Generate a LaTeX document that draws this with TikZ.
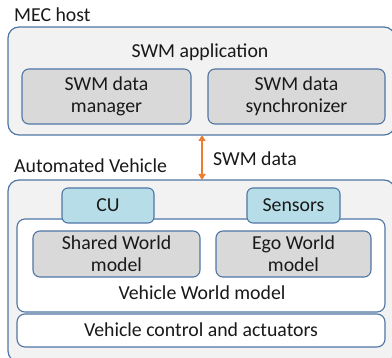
\documentclass[tikz,border=0pt]{standalone}
\usepackage{fontspec}
\setmainfont{Carlito}
\usetikzlibrary{arrows.meta}
\definecolor{bord}{RGB}{80,118,165}
\definecolor{outerfill}{RGB}{242,242,242}
\definecolor{grayfill}{RGB}{217,217,217}
\definecolor{bluefill}{RGB}{183,222,232}
\definecolor{arrowc}{RGB}{237,125,49}
\definecolor{txt}{RGB}{25,25,25}
\tikzset{
  outerbox/.style={draw=bord, line width=1.2pt, fill=outerfill, rounded corners=11pt},
  graybox/.style={draw=bord, line width=1.1pt, fill=grayfill, rounded corners=7pt},
  whitebox/.style={draw=bord, line width=1.1pt, fill=white, rounded corners=8pt},
  bluebox/.style={draw=bord, line width=1.1pt, fill=bluefill, rounded corners=6pt},
  lbl/.style={text=txt, font=\fontsize{19.8}{22}\selectfont, align=center, inner sep=0pt},
}
\begin{document}
\begin{tikzpicture}[x=1pt,y=-1pt]
\useasboundingbox (0,0) rectangle (392,358);
% MEC host
\node[lbl, anchor=west] (mectitle) at (14,15) {MEC host};
\draw[outerbox] (8,27) rectangle (395,135);
\coordinate (mecbot) at (202,135);
\node[lbl] (swmapp) at (200,52) {SWM application};
\draw[graybox] (22,69) rectangle (191,124);
\node[lbl] (mgr) at (106.5,96.5) {SWM data\\manager};
\draw[graybox] (208,69) rectangle (385,124);
\node[lbl] (sync) at (296.5,96.5) {SWM data\\synchronizer};
% Vehicle
\node[lbl, anchor=west] (avtitle) at (14,166) {Automated Vehicle};
\draw[outerbox] (8,180) rectangle (395,362);
\coordinate (avtop) at (202,180);
\draw[whitebox] (17,219) rectangle (385,312);
\draw[bluebox] (62,188) rectangle (154,223);
\node[lbl] (cu) at (108,205.5) {CU};
\draw[bluebox] (247,188) rectangle (340,223);
\node[lbl] (sens) at (293.5,205.5) {Sensors};
\draw[graybox] (33,231) rectangle (200,277);
\node[lbl] (shared) at (116.5,254) {Shared World\\model};
\draw[graybox] (216,231) rectangle (371,277);
\node[lbl] (ego) at (293.5,254) {Ego World\\model};
\node[lbl] (vwm) at (202,293) {Vehicle World model};
\draw[whitebox] (17,314) rectangle (385,347);
\node[lbl] (vca) at (201,330) {Vehicle control and actuators};
% arrow
\draw[arrowc, line width=1.8pt, {Triangle[length=6pt,width=7pt]}-{Triangle[length=6pt,width=7pt]}] (mecbot) -- (avtop);
\node[lbl, anchor=west] (swmdata) at (213,159) {SWM data};
\end{tikzpicture}
\end{document}
